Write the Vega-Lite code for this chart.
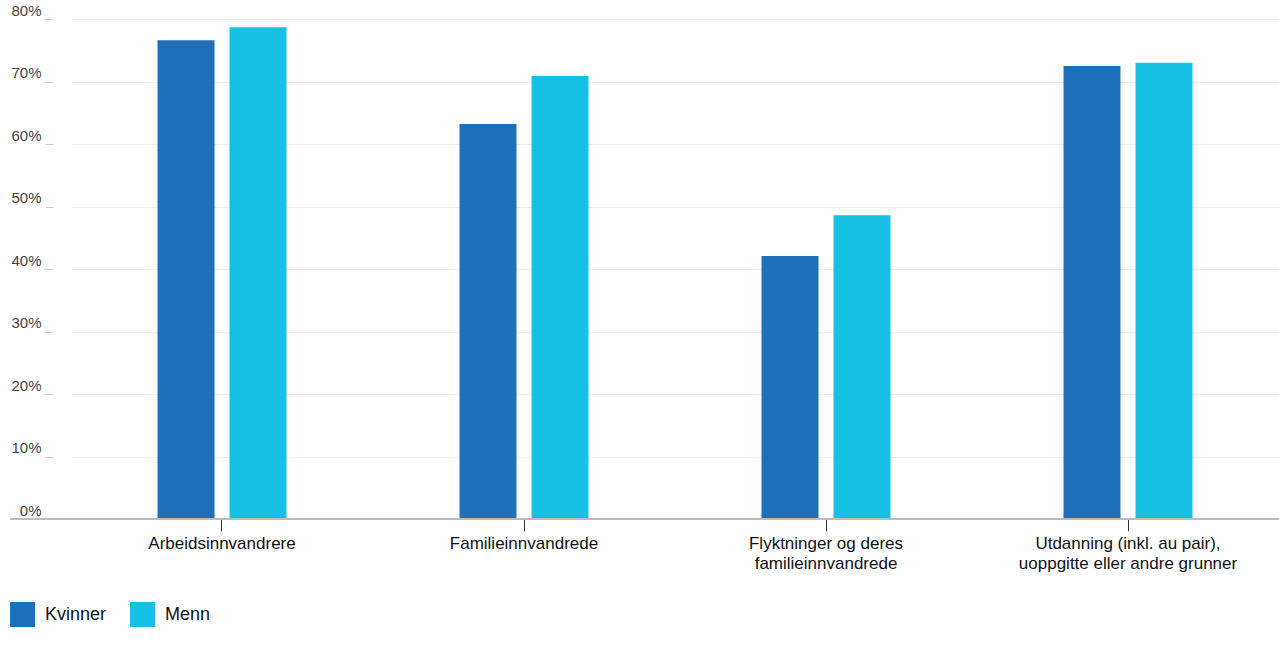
{
  "$schema": "https://vega.github.io/schema/vega-lite/v6.json",
  "width": 1269,
  "height": 500,
  "autosize": {"type": "none"},
  "padding": {"left": 10, "top": 19, "right": 0, "bottom": 126},
  "background": "white",
  "data": {
    "values": [
      {"kategori": "Arbeidsinnvandrere", "kjonn": "Kvinner", "andel": 76.6},
      {"kategori": "Arbeidsinnvandrere", "kjonn": "Menn", "andel": 78.7},
      {"kategori": "Familieinnvandrede", "kjonn": "Kvinner", "andel": 63.2},
      {"kategori": "Familieinnvandrede", "kjonn": "Menn", "andel": 70.9},
      {"kategori": "Flyktninger og deres familieinnvandrede", "kjonn": "Kvinner", "andel": 42.1},
      {"kategori": "Flyktninger og deres familieinnvandrede", "kjonn": "Menn", "andel": 48.6},
      {"kategori": "Utdanning (inkl. au pair), uoppgitte eller andre grunner", "kjonn": "Kvinner", "andel": 72.5},
      {"kategori": "Utdanning (inkl. au pair), uoppgitte eller andre grunner", "kjonn": "Menn", "andel": 73.0}
    ]
  },
  "layer": [
    {
      "mark": {"type": "bar"},
      "encoding": {
        "x": {
          "field": "kategori",
          "type": "nominal",
          "sort": null,
          "scale": {"range": [61, 1269], "paddingInner": 0.096, "paddingOuter": 0.048},
          "axis": {
            "title": null,
            "labelAngle": 0,
            "labelFont": "Liberation Sans",
            "labelFontSize": 17,
            "labelColor": "#111",
            "labelLineHeight": 20,
            "labelPadding": 4,
            "labelLimit": 0,
            "tickSize": 12,
            "tickColor": "#333",
            "domain": false,
            "labelExpr": "datum.value == 'Flyktninger og deres familieinnvandrede' ? ['Flyktninger og deres', 'familieinnvandrede'] : datum.value == 'Utdanning (inkl. au pair), uoppgitte eller andre grunner' ? ['Utdanning (inkl. au pair),', 'uoppgitte eller andre grunner'] : datum.value"
          }
        },
        "xOffset": {
          "field": "kjonn",
          "type": "nominal",
          "scale": {"paddingInner": 0.2083, "paddingOuter": 1}
        },
        "y": {
          "field": "andel",
          "type": "quantitative",
          "scale": {"domain": [0, 80]},
          "axis": {
            "title": null,
            "orient": "left",
            "values": [0, 10, 20, 30, 40, 50, 60, 70, 80],
            "grid": true,
            "gridColor": "#eee",
            "labels": false,
            "ticks": false,
            "domain": false
          }
        },
        "color": {
          "field": "kjonn",
          "type": "nominal",
          "scale": {"domain": ["Kvinner", "Menn"], "range": ["#1f70b8", "#17c1e6"]},
          "legend": {
            "title": null,
            "orient": "none",
            "legendX": 0,
            "legendY": 583,
            "direction": "horizontal",
            "symbolType": "square",
            "symbolSize": 625,
            "symbolStrokeWidth": 0,
            "symbolOpacity": 1,
            "labelFont": "Liberation Sans",
            "labelFontSize": 18,
            "labelColor": "#111",
            "labelOffset": 10,
            "columnPadding": 23,
            "padding": 0
          }
        }
      }
    },
    {
      "mark": {"type": "rule", "color": "#bbb", "strokeWidth": 1},
      "encoding": {
        "y": {
          "datum": 0,
          "type": "quantitative",
          "axis": {
            "title": null,
            "orient": "left",
            "values": [0, 10, 20, 30, 40, 50, 60, 70, 80],
            "labelExpr": "datum.value + '%'",
            "offset": -43,
            "grid": false,
            "domain": false,
            "tickSize": 8,
            "tickColor": "#ccc",
            "labelPadding": 4,
            "labelFont": "Liberation Sans",
            "labelFontSize": 15,
            "labelColor": "#444",
            "labelBaseline": "alphabetic",
            "labelOffset": -4
          }
        }
      }
    }
  ],
  "resolve": {"axis": {"y": "independent"}},
  "config": {"view": {"stroke": null}}
}
